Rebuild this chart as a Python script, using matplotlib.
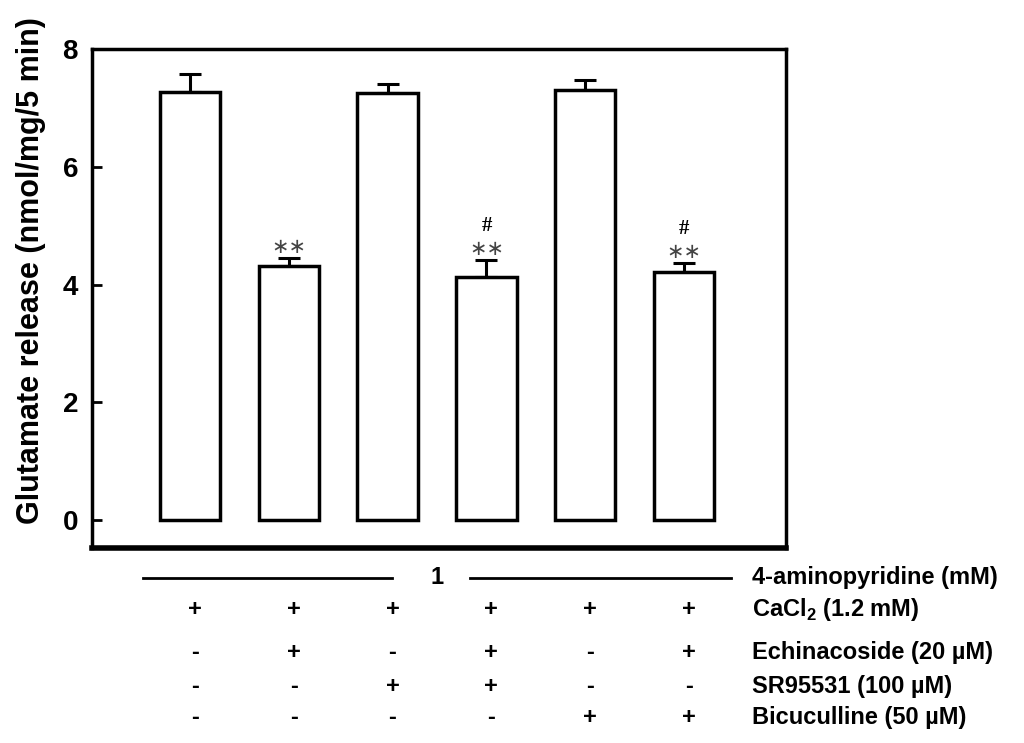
import numpy as np
import matplotlib
matplotlib.use('Agg')
import matplotlib.pyplot as plt

# data
means = [7.27, 4.31, 7.26, 4.13, 7.31, 4.21]
errors = [0.31, 0.14, 0.15, 0.29, 0.17, 0.16]
stars = ['', '∗∗', '', '∗∗', '', '∗∗']
hashes = ['', '', '', '#', '', '#']
treat_labels = ['CaCl$_\\mathbf{2}$ (1.2 mM)', 'Echinacoside (20 µM)',
                'SR95531 (100 µM)', 'Bicuculline (50 µM)']
treat_signs = [['+', '+', '+', '+', '+', '+'],
               ['-', '+', '-', '+', '-', '+'],
               ['-', '-', '+', '+', '-', '-'],
               ['-', '-', '-', '-', '+', '+']]
ap_label = '4-aminopyridine (mM)'
ap_conc = '1'

plt.rcParams['font.family'] = ['Liberation Sans', 'DejaVu Sans']
plt.rcParams['mathtext.fontset'] = 'custom'
plt.rcParams['mathtext.bf'] = 'Liberation Sans:bold'

fig = plt.figure(figsize=(10.24, 7.43), dpi=100)
ax = fig.add_axes([0.0898, 0.2624, 0.6778, 0.6716])

x = np.arange(len(means))
ax.bar(x, means, width=0.61, color='white', edgecolor='black', linewidth=2.5, zorder=2)
ax.errorbar(x, means, yerr=[np.zeros(len(errors)), errors], fmt='none',
            ecolor='black', elinewidth=2.2, capsize=8, capthick=2.2, zorder=1)

for i in range(len(means)):
    top = means[i] + errors[i]
    if stars[i]:
        ax.text(x[i], top + 0.19, stars[i], ha='center', va='center', fontsize=15,
                family='DejaVu Sans', color='#444444')
    if hashes[i]:
        ax.text(x[i], top + 0.57, hashes[i], ha='center', va='center', fontsize=15,
                family='Liberation Serif', fontweight='bold')

ax.set_xlim(-0.99, 6.03)
ax.set_ylim(-0.475, 8)
ax.set_yticks([0, 2, 4, 6, 8])
ax.set_xticks([])
ax.tick_params(axis='y', direction='in', length=7, width=2, labelsize=20, pad=10)
for lab in ax.get_yticklabels():
    lab.set_fontweight('bold')
for s in ['left', 'top', 'right']:
    ax.spines[s].set_linewidth(2.5)
ax.spines['bottom'].set_linewidth(4)
ax.set_ylabel('Glutamate release (nmol/mg/5 min)', fontsize=22, fontweight='bold')
ax.yaxis.set_label_coords(-0.066, 0.557)

# treatment table under the axis
tr = ax.get_xaxis_transform()
row_y = [-0.124, -0.210, -0.277, -0.339]
fs_tab = 17
ax.plot([-0.476, 2.045], [-0.060, -0.060], color='black', lw=2, transform=tr, clip_on=False)
ax.plot([2.83, 5.47], [-0.060, -0.060], color='black', lw=2, transform=tr, clip_on=False)
ax.text(2.5, -0.060, ap_conc, transform=tr, ha='center', va='center', fontsize=fs_tab,
        fontweight='bold')
ax.text(5.69, -0.060, ap_label, transform=tr, ha='left', va='center', fontsize=fs_tab,
        fontweight='bold')
for r in range(len(treat_labels)):
    for i in range(len(means)):
        ax.text(x[i] + 0.05, row_y[r], treat_signs[r][i], transform=tr, ha='center',
                va='center', fontsize=fs_tab, fontweight='bold')
    ax.text(5.69, row_y[r], treat_labels[r], transform=tr, ha='left', va='center',
            fontsize=fs_tab, fontweight='bold')

fig.savefig('out.png', dpi=100)
